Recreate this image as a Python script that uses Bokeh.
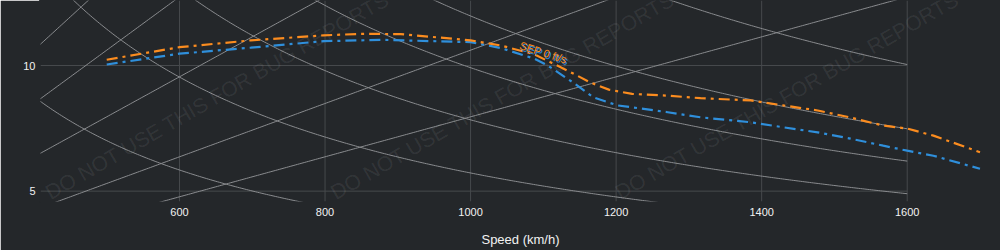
import numpy as np
from bokeh.plotting import figure
from bokeh.models import FixedTicker, Range1d
from bokeh.core.properties import value
from bokeh.embed import file_html
from bokeh.resources import INLINE

# ---- data ----
speed_orange = [500, 600, 698, 798, 849, 904, 1000, 1041, 1087, 1133, 1165, 1190, 1222, 1271, 1316, 1385, 1430, 1477, 1522, 1567, 1600, 1636, 1700]
sep_orange = [10.23, 10.73, 11.00, 11.20, 11.26, 11.25, 11.00, 10.80, 10.45, 9.80, 9.32, 9.04, 8.87, 8.80, 8.70, 8.61, 8.41, 8.21, 7.93, 7.61, 7.49, 7.21, 6.55]
speed_blue = [500, 600, 698, 798, 880, 1000, 1041, 1087, 1106, 1141, 1169, 1202, 1234, 1271, 1316, 1385, 1430, 1477, 1522, 1567, 1600, 1636, 1700]
sep_blue = [10.04, 10.47, 10.71, 10.97, 11.02, 10.93, 10.70, 10.28, 10.00, 9.32, 8.73, 8.41, 8.29, 8.14, 7.94, 7.74, 7.54, 7.34, 7.09, 6.81, 6.61, 6.41, 5.89]

x_ticks = [600, 800, 1000, 1200, 1400, 1600]
y_ticks = [5, 10]
load_factors = [2, 3, 4, 5, 6, 8]          # constant-g curves
turn_radii = [600, 750, 1000, 1500, 2000]  # constant-radius lines (m)
label_text = "SEP 0 ft/s"
watermark = "DO NOT USE THIS FOR BUG REPORTS"
watermark_x = [418, 810, 1201]

# ---- styling ----
BG = "#24272a"
GRID = "#46494c"
CURVE = "#8a8c8f"
ORANGE = "#fb8c1f"
BLUE = "#2f8fdb"
FONT = "Liberation Sans"

x0, x1 = 409.0, 1728.2
y0, y1 = 4.588, 12.587
box_right = x_ticks[-1]

p = figure(width=1000, height=250, output_backend="svg", toolbar_location=None,
           x_range=Range1d(x0, x1), y_range=Range1d(y0, y1),
           min_border_left=40, min_border_right=0, min_border_top=0, min_border_bottom=49,
           background_fill_color=BG, border_fill_color=BG)
# outline painted in the background colour to hide the frame seam
p.outline_line_color = BG
p.outline_line_width = 3
p.xgrid.visible = False
p.ygrid.visible = False

# grid box
p.segment(x0=x_ticks, x1=x_ticks, y0=[y0] * len(x_ticks), y1=[y1] * len(x_ticks),
          line_color=GRID, line_width=1)
p.segment(x0=[x0] * len(y_ticks), x1=[box_right] * len(y_ticks), y0=y_ticks, y1=y_ticks,
          line_color=GRID, line_width=1)

# guide curves: turn rate (deg/s) vs speed (km/h)
V = np.linspace(380, box_right, 400)
g = 9.81
for n in load_factors:
    w = np.degrees(g * np.sqrt(n ** 2 - 1) / (V / 3.6))
    p.line(V, w, line_color=CURVE, line_width=1)
for R in turn_radii:
    w = np.degrees((V / 3.6) / R)
    p.line(V, w, line_color=CURVE, line_width=1)

# watermarks
p.text(x=watermark_x, y=[4.894] * len(watermark_x), text=[watermark] * len(watermark_x),
       angle=30, angle_units="deg", text_font=value(FONT), text_font_size="21px",
       text_color="#ffffff", text_alpha=0.08, text_align="left", text_baseline="alphabetic")

# data series
p.line(speed_blue, sep_blue, line_color=BLUE, line_width=2.2, line_dash="11 5 3 5")
p.line(speed_orange, sep_orange, line_color=ORANGE, line_width=2.2, line_dash="11 5 3 5")

# SEP labels
p.text(x=[1102], y=[10.46], text=[label_text], angle=-18, angle_units="deg",
       text_font=value(FONT), text_font_size="11px", text_color=BLUE,
       text_align="center", text_baseline="middle")
p.text(x=[1100], y=[10.52], text=[label_text], angle=-18, angle_units="deg",
       text_font=value(FONT), text_font_size="11px", text_color=ORANGE,
       text_align="center", text_baseline="middle")

# axes
p.xaxis.ticker = FixedTicker(ticks=x_ticks)
p.yaxis.ticker = FixedTicker(ticks=y_ticks)
for ax in (p.xaxis[0], p.yaxis[0]):
    ax.axis_line_color = None
    ax.major_tick_line_color = None
    ax.minor_tick_line_color = None
    ax.major_tick_out = 0
    ax.major_tick_in = 0
    ax.minor_tick_out = 0
    ax.minor_tick_in = 0
    ax.major_label_text_color = "#f2f2f2"
    ax.major_label_text_font = FONT
    ax.major_label_text_font_size = "11px"
p.xaxis.major_label_standoff = 6
p.yaxis.major_label_standoff = 5
p.xaxis.axis_label = "Speed (km/h)"
p.xaxis.axis_label_text_font = FONT
p.xaxis.axis_label_text_font_size = "13px"
p.xaxis.axis_label_text_font_style = "normal"
p.xaxis.axis_label_text_color = "#f2f2f2"
p.xaxis.axis_label_standoff = 13

html = file_html(p, INLINE)
html = html.replace("<body>", '<body style="margin:0;background-color:%s;">' % BG, 1)
open("out.html", "w").write(html)
